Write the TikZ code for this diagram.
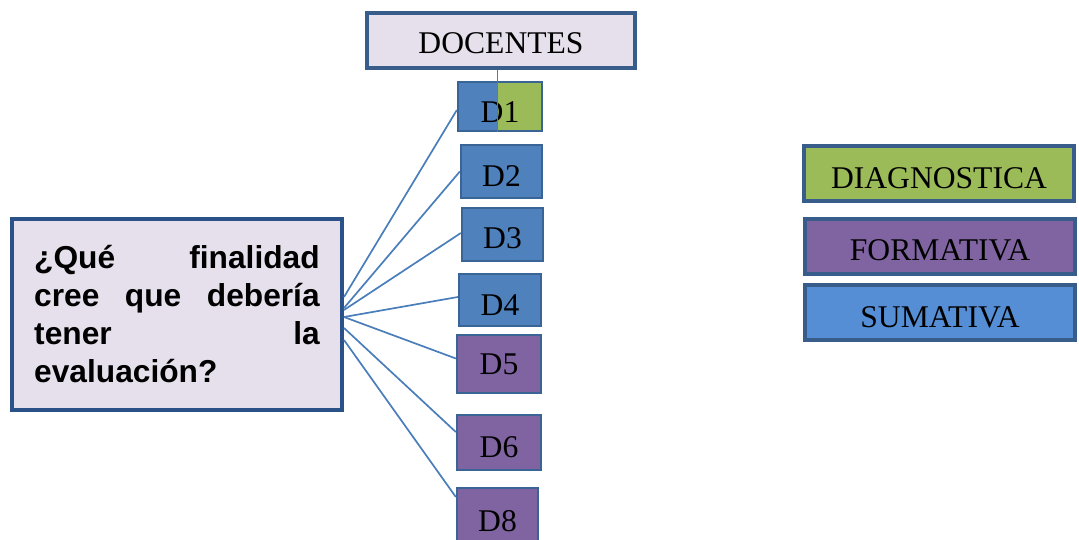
\documentclass[tikz,border=0pt]{standalone}
\usepackage{fontspec}
\setmainfont{Liberation Serif}
\newfontfamily\qfont{Liberation Sans}
\definecolor{docfill}{HTML}{E6E0EC}
\definecolor{bordblue}{HTML}{385D8A}
\definecolor{qbord}{HTML}{2B5189}
\definecolor{dblue}{HTML}{4F81BD}
\definecolor{dpurple}{HTML}{8064A2}
\definecolor{dgreen}{HTML}{9BBB59}
\definecolor{sumblue}{HTML}{558ED5}
\definecolor{dbord}{HTML}{3A6496}
\definecolor{linecol}{HTML}{4A7EBB}
\tikzset{
  bigbox/.style={draw=bordblue, line width=4pt, inner sep=0pt, minimum width=270pt, minimum height=55pt,
    font=\fontsize{31.6}{36}\selectfont, text height=29pt, text depth=0pt},
  dbox/.style={draw=dbord, line width=2.3pt, inner sep=0pt, minimum width=84pt, minimum height=53pt,
    font=\fontsize{31.6}{36}\selectfont, text height=30pt, text depth=0pt},
  conn/.style={draw=linecol, line width=1.7pt}
}
\begin{document}
\begin{tikzpicture}[x=1pt,y=-1pt]
\useasboundingbox (0,0) rectangle (1079,540);
% title
\node[bigbox, fill=docfill, minimum width=268pt, text height=26pt] (DOC) at (501,40.5) {DOCENTES};
% question
\node[draw=qbord, line width=4pt, fill=docfill, minimum width=330pt, minimum height=191pt, inner sep=0pt] (Q) at (177,314.5) {};
\node[anchor=base west, inner sep=0pt, text width=285.5pt, align=justify,
  font=\qfont\bfseries\fontsize{31.7}{37.7}\selectfont] (QT) at (34,269)
  {¿Qué finalidad\linebreak cree que debería\linebreak tener la\linebreak evaluación?};
% D boxes
\node[dbox, fill=dblue, minimum width=84pt, minimum height=49pt, text height=33pt,
  path picture={\fill[dgreen] ([xshift=-2pt]path picture bounding box.north) rectangle (path picture bounding box.south east);}] (D1) at (500,106.5) {D1};
\node[dbox, fill=dblue, minimum width=81pt] (D2) at (501.5,171.5) {D2};
\node[dbox, fill=dblue, minimum width=81pt, text height=28pt] (D3) at (502.5,234.5) {D3};
\node[dbox, fill=dblue, minimum width=82pt, minimum height=52pt] (D4) at (500,300) {D4};
\node[dbox, fill=dpurple, minimum height=58pt, text height=21pt] (D5) at (499,364) {D5};
\node[dbox, fill=dpurple, minimum height=55pt] (D6) at (499,442.5) {D6};
\node[dbox, fill=dpurple, minimum width=81pt, minimum height=56pt] (D8) at (497.5,516) {D8};
% legend
\node[bigbox, fill=dgreen, minimum width=270pt, text height=31pt] (DIA) at (939,173.5) {DIAGNOSTICA};
\node[bigbox, fill=dpurple, minimum width=270pt, text height=29pt] (FOR) at (940,246.5) {FORMATIVA};
\node[bigbox, fill=sumblue, minimum width=270pt, text height=29pt] (SUM) at (940,312.5) {SUMATIVA};
% connectors
\draw[conn] ([xshift=-3.5pt]DOC.south) -- ([xshift=-2.5pt]D1.south);
\draw[conn] ([yshift=17.5pt]Q.east) -- ([yshift=-3.5pt]D1.west);
\draw[conn] ([yshift=6.5pt]Q.east) -- (D2.west);
\draw[conn] ([yshift=4.5pt]Q.east) -- ([yshift=1.5pt]D3.west);
\draw[conn] ([yshift=-2.5pt]Q.east) -- ([yshift=3pt]D4.west);
\draw[conn] ([yshift=-2.5pt]Q.east) -- ([yshift=5.5pt]D5.west);
\draw[conn] ([yshift=-13.5pt]Q.east) -- ([yshift=10.5pt]D6.west);
\draw[conn] ([yshift=-25.5pt]Q.east) -- ([yshift=19pt]D8.west);
\end{tikzpicture}
\end{document}
